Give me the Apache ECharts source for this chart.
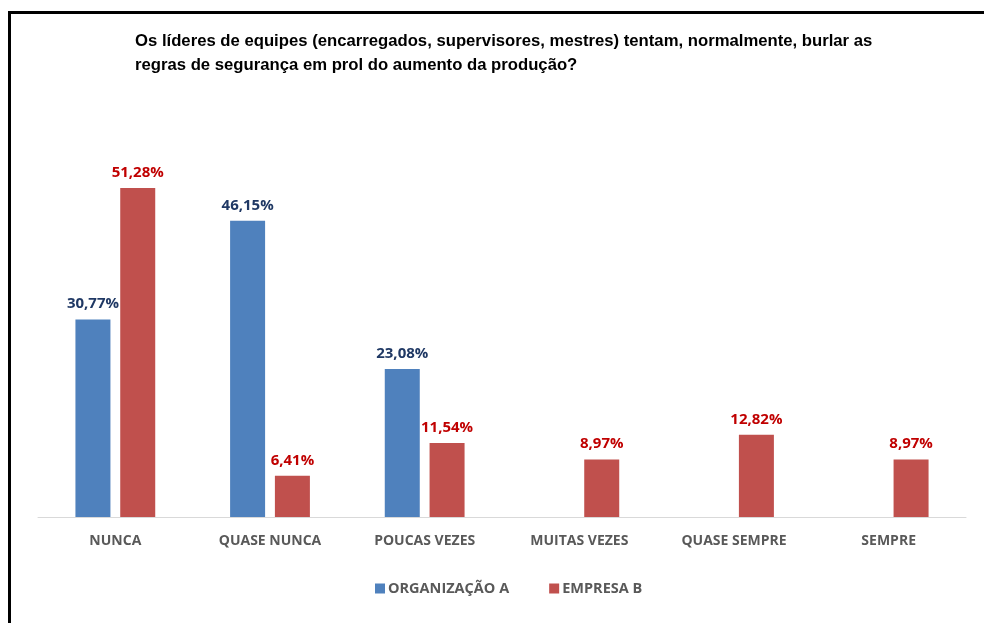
<!DOCTYPE html>
<html>
<head>
<meta charset="utf-8">
<script src="https://cdn.jsdelivr.net/npm/echarts@6/dist/echarts.min.js"></script>
<style>
html,body{margin:0;padding:0;background:#fff;overflow:hidden;width:984px;height:623px;}
#chart{position:absolute;left:0;top:0;width:984px;height:623px;}
</style>
</head>
<body>
<div id="chart"></div>
<script>
const titleText = 'Os líderes de equipes (encarregados, supervisores, mestres) tentam, normalmente, burlar as\nregras de segurança em prol do aumento da produção?';
const categories = ['NUNCA', 'QUASE NUNCA', 'POUCAS VEZES', 'MUITAS VEZES', 'QUASE SEMPRE', 'SEMPRE'];
const seriesNames = ['ORGANIZAÇÃO A', 'EMPRESA B'];
const orgA = [30.77, 46.15, 23.08, null, null, null];
const empB = [51.28, 6.41, 11.54, 8.97, 12.82, 8.97];

const chart = echarts.init(document.getElementById('chart'), null, {renderer: 'canvas'});
const fmt = p => (p.value == null ? '' : p.value.toFixed(2).replace('.', ',') + '%');
chart.setOption({
  animation: false,
  graphic: [
    {type: 'polyline', shape: {points: [[9.5, 640], [9.5, 12.5], [1000, 12.5]]}, style: {stroke: '#000', lineWidth: 3, fill: null}}
  ],
  title: {
    text: titleText,
    left: 130, top: 24,
    textStyle: {fontFamily: '"Liberation Sans Narrow","Arial Narrow","Liberation Sans",sans-serif', fontWeight: 'bold', fontSize: 16.7, color: '#000', lineHeight: 24}
  },
  legend: {
    data: seriesNames,
    top: 576, left: 370,
    itemWidth: 10, itemHeight: 10, itemGap: 40,
    icon: 'rect',
    textStyle: {fontFamily: '"Open Sans",sans-serif', fontWeight: 'bold', fontSize: 14.5, color: '#595959', padding: [0,0,0,-2]}
  },
  grid: {left: 38, right: 18, top: 132, bottom: 106},
  xAxis: {
    type: 'category', data: categories,
    axisLine: {lineStyle: {color: '#D9D9D9', width: 1}},
    axisTick: {show: false},
    axisLabel: {fontFamily: '"Open Sans",sans-serif', fontWeight: 'bold', fontSize: 14, color: '#595959', margin: 17}
  },
  yAxis: {type: 'value', min: 0, max: 60, show: false, splitLine: {show: false}},
  series: [
    {name: seriesNames[0], type: 'bar', data: orgA, barWidth: 35, barGap: '28%',
     itemStyle: {color: '#4F81BD'},
     label: {show: true, position: 'top', distance: 8, formatter: fmt, fontFamily: '"Open Sans",sans-serif', fontWeight: 'bold', fontSize: 15, color: '#1F3864'}},
    {name: seriesNames[1], type: 'bar', data: empB, barWidth: 35,
     itemStyle: {color: '#C0504D'},
     label: {show: true, position: 'top', distance: 8, formatter: fmt, fontFamily: '"Open Sans",sans-serif', fontWeight: 'bold', fontSize: 15, color: '#C00000'}}
  ]
});
</script>
</body>
</html>
